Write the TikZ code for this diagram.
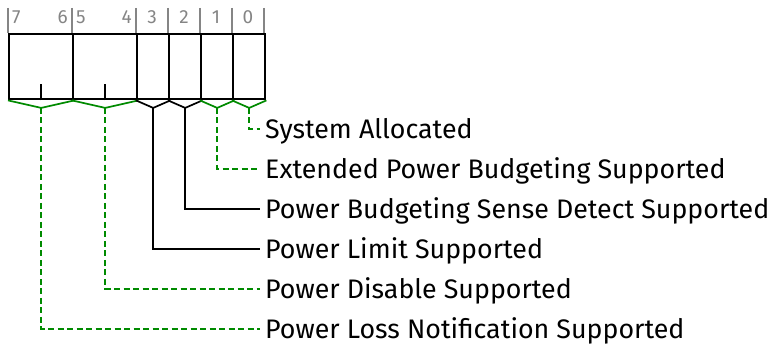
\documentclass[tikz,border=0pt]{standalone}
\usepackage{fontspec}
\setmainfont{Fira Sans}
\usetikzlibrary{calc}
\definecolor{grn}{HTML}{008A00}
\definecolor{gry}{HTML}{858585}
\begin{document}
\begin{tikzpicture}[x=1pt,y=-1pt,
  field/.style={draw=black,line width=2.4pt,minimum height=65pt,inner sep=0pt,anchor=north west},
  tick/.style={draw=gry,line width=1.2pt},
  bitnum/.style={text=gry,font=\fontsize{19}{19}\selectfont,inner sep=0pt},
  lbl/.style={font=\fontsize{26.8}{27}\selectfont,anchor=west,inner xsep=5pt,inner ysep=0pt,text height=18pt,text depth=0pt},
  brg/.style={draw=grn,line width=1.7pt},
  brk/.style={draw=black,line width=1.7pt},
  cg/.style={draw=grn,line width=1.7pt,dash pattern=on 6pt off 3.5pt},
  ck/.style={draw=black,line width=1.7pt}
]
\useasboundingbox (0,0) rectangle (777,345);
% bit number ticks
\foreach \x in {8,72,136,168,200,232,264} \draw[tick] (\x,8) -- (\x,33);
\node[bitnum,anchor=base west] (n7) at (12,24) {7};
\node[bitnum,anchor=base east] (n6) at (68,24) {6};
\node[bitnum,anchor=base west] (n5) at (76,24) {5};
\node[bitnum,anchor=base east] (n4) at (132,24) {4};
\node[bitnum,anchor=base] (n3) at (152,24) {3};
\node[bitnum,anchor=base] (n2) at (184,24) {2};
\node[bitnum,anchor=base] (n1) at (216,24) {1};
\node[bitnum,anchor=base] (n0) at (248,24) {0};
% fields
\node[field,minimum width=64pt] (f76) at (8,33) {};
\node[field,minimum width=64pt] (f54) at (72,33) {};
\node[field,minimum width=32pt] (f3) at (136,33) {};
\node[field,minimum width=32pt] (f2) at (168,33) {};
\node[field,minimum width=32pt] (f1) at (200,33) {};
\node[field,minimum width=32pt] (f0) at (232,33) {};
\draw[line width=1.7pt] (f76.south) -- ++(0,-16);
\draw[line width=1.7pt] (f54.south) -- ++(0,-16);
% braces
\foreach \f/\s in {f76/brg,f54/brg,f3/brk,f2/brk,f1/brg,f0/brg}{
  \coordinate (b\f) at ($(\f.south)+(0,7.5)$);
  \draw[\s] (\f.south west) -- (b\f) -- (\f.south east);
}
% labels
\node[lbl] (l0) at (260,129) {System Allocated};
\node[lbl] (l1) at (260,169) {Extended Power Budgeting Supported};
\node[lbl] (l2) at (260,209) {Power Budgeting Sense Detect Supported};
\node[lbl] (l3) at (260,249) {Power Limit Supported};
\node[lbl] (l4) at (260,289) {Power Disable Supported};
\node[lbl] (l5) at (260,329) {Power Loss Notification Supported};
% connectors
\draw[cg] (bf0) |- (l0.west);
\draw[cg] (bf1) |- (l1.west);
\draw[ck] (bf2) |- (l2.west);
\draw[ck] (bf3) |- (l3.west);
\draw[cg] (bf54) |- (l4.west);
\draw[cg] (bf76) |- (l5.west);
\end{tikzpicture}
\end{document}
